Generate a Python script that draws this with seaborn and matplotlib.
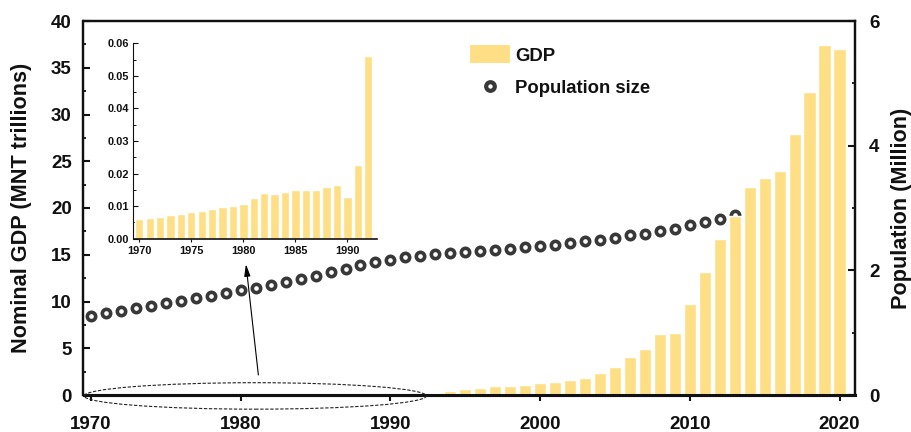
import numpy as np
import matplotlib
matplotlib.use("Agg")
import matplotlib.pyplot as plt
from matplotlib.patches import Ellipse, Patch
from matplotlib.lines import Line2D
from matplotlib.ticker import MultipleLocator, FormatStrFormatter
import seaborn as sns

years = list(range(1970, 2021))
gdp = [0.0060, 0.0064, 0.0067, 0.0073, 0.0077, 0.0081, 0.0084, 0.0091, 0.0097, 0.0101,
       0.0107, 0.0125, 0.0141, 0.0137, 0.0144, 0.0151, 0.0151, 0.0150, 0.0159, 0.0165,
       0.0129, 0.0227, 0.0562,
       0.18, 0.39, 0.64, 0.75, 0.93, 0.96, 1.07, 1.25, 1.39, 1.57, 1.82, 2.36, 3.03,
       4.03, 4.93, 6.53, 6.60, 9.74, 13.2, 16.7, 19.17, 22.27, 23.2, 24.0, 27.9, 32.4, 37.4, 37.05]
population = [1.274, 1.317, 1.354, 1.393, 1.435, 1.473, 1.515, 1.553, 1.595, 1.643,
              1.682, 1.724, 1.772, 1.815, 1.863, 1.912, 1.976, 2.024, 2.084, 2.133,
              2.169, 2.212, 2.233, 2.260, 2.276, 2.297, 2.313, 2.329, 2.350, 2.373,
              2.389, 2.414, 2.431, 2.463, 2.490, 2.522, 2.559, 2.586, 2.623, 2.667,
              2.720, 2.779, 2.822, 2.880, 2.93, 3.02, 3.08, 3.15, 3.21, 3.28, 3.37]
inset_count = 23

BAR = "#FEDF85"
DARK = "#383838"
INK = "#111111"

sns.set_style("ticks")
plt.rcParams["font.family"] = ["Liberation Sans", "DejaVu Sans"]
plt.rcParams["font.weight"] = "bold"
plt.rcParams["axes.labelweight"] = "bold"

W, H = 912, 432
fig = plt.figure(figsize=(W / 100, H / 100), dpi=100)
ax = fig.add_axes([83.5 / W, (H - 395) / H, 771.5 / W, 374 / H])
ax2 = ax.twinx()
ax.set_zorder(ax2.get_zorder() + 1)
ax.patch.set_visible(False)

sns.scatterplot(x=years, y=population, ax=ax2, s=36, color="white", edgecolor=DARK,
                linewidth=2.6, legend=False, clip_on=False)
sns.barplot(x=years, y=gdp, ax=ax, native_scale=True, color=BAR, saturation=1, width=0.82)

ax.set_xlim(1969.5, 2021.03)
ax.set_ylim(0, 40)
ax2.set_ylim(0, 6)
ax.set_xticks([1970, 1980, 1990, 2000, 2010, 2020])
ax.yaxis.set_major_locator(MultipleLocator(5))
ax.yaxis.set_minor_locator(MultipleLocator(2.5))
ax2.yaxis.set_major_locator(MultipleLocator(2))
ax2.yaxis.set_minor_locator(MultipleLocator(1))

ax.tick_params(axis="x", which="major", direction="out", length=4.5, width=1.5, pad=10.5,
               labelsize=13.5, color=INK, labelcolor=INK)
ax.tick_params(axis="y", which="major", direction="in", length=5, width=1.5, pad=8.5,
               labelsize=13.5, color=INK, labelcolor=INK)
ax.tick_params(axis="y", which="minor", direction="in", length=2.5, width=1.3, color=INK)
ax2.tick_params(axis="y", which="major", direction="in", length=5, width=1.5, pad=10,
                labelsize=13.5, color=INK, labelcolor=INK)
ax2.tick_params(axis="y", which="minor", direction="in", length=2.5, width=1.3, color=INK)

for a in (ax, ax2):
    for side, lw in (("left", 1.6), ("right", 1.6), ("top", 1.6), ("bottom", 2.2)):
        a.spines[side].set_linewidth(lw)
        a.spines[side].set_color(INK)

ax.set_ylabel("Nominal GDP (MNT trillions)", fontsize=15.6, fontweight="bold", color=INK)
ax.yaxis.set_label_coords(-0.0667, 0.5)
ax2.set_ylabel("Population (Million)", fontsize=15.6, fontweight="bold", color=INK)
ax2.yaxis.set_label_coords(1.0465, 0.5)

ax.add_patch(Ellipse((1980.97, -0.1), 22.85, 2.83, fill=False, edgecolor="#222222",
                     linestyle=(0, (3, 1.5)), linewidth=0.8, clip_on=False, zorder=6))
ax.annotate("", xy=(1980.35, 14.0), xytext=(1981.18, 2.14),
            arrowprops=dict(arrowstyle="-|>,head_length=0.55,head_width=0.14", color="black",
                            lw=0.8, shrinkA=0, shrinkB=0, mutation_scale=13))

handles = [Patch(facecolor=BAR, edgecolor="none", label="GDP"),
           Line2D([], [], linestyle="none", marker="o", markersize=6.2, markerfacecolor="white",
                  markeredgecolor=DARK, markeredgewidth=3, label="Population size")]
leg = ax.legend(handles=handles, loc="upper left", bbox_to_anchor=(0.501, 0.9345), frameon=False,
                borderpad=0, borderaxespad=0, fontsize=13.3, handlelength=2.16, handleheight=1.1,
                handletextpad=0.3, labelspacing=0.72)
for t in leg.get_texts():
    t.set_color(INK)
    t.set_fontweight("bold")

inset = fig.add_axes([133.5 / W, (H - 238.7) / H, 243.5 / W, 195.4 / H])
inset.set_zorder(ax.get_zorder() + 1)
inset.patch.set_visible(False)
sns.barplot(x=years[:inset_count], y=gdp[:inset_count], ax=inset, native_scale=True, color=BAR,
            saturation=1, width=0.8)
inset.set_xlim(1969.44, 1992.85)
inset.set_ylim(0, 0.06)
inset.set_xticks([1970, 1975, 1980, 1985, 1990])
inset.yaxis.set_major_locator(MultipleLocator(0.01))
inset.yaxis.set_minor_locator(MultipleLocator(0.005))
inset.yaxis.set_major_formatter(FormatStrFormatter("%.2f"))
inset.tick_params(axis="x", which="major", direction="out", length=2, width=0.8, pad=3,
                  labelsize=7.9, color=INK, labelcolor=INK)
inset.tick_params(axis="y", which="major", direction="in", length=3.5, width=0.8, pad=3,
                  labelsize=7.9, color=INK, labelcolor=INK)
inset.tick_params(axis="y", which="minor", direction="in", length=1.8, width=0.7, color=INK)
sns.despine(ax=inset)
inset.spines["left"].set_linewidth(0.8)
inset.spines["bottom"].set_linewidth(1.2)
inset.spines["left"].set_color(INK)
inset.spines["bottom"].set_color(INK)

fig.savefig("out.png", dpi=100, facecolor="white")
